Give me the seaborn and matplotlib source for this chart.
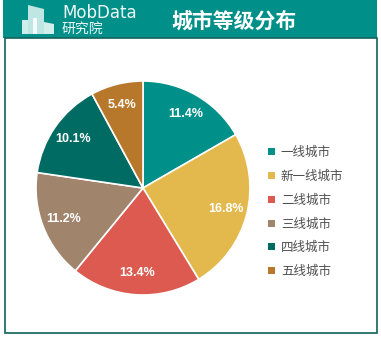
import matplotlib
matplotlib.use("Agg")
import matplotlib.pyplot as plt
from matplotlib.patches import Rectangle, Polygon
import numpy as np
import seaborn as sns

sns.set_theme(style="white")
plt.rcParams["font.family"] = ["Noto Sans CJK SC", "DejaVu Sans"]

# City tier shares (%)
categories = ["一线城市", "新一线城市", "二线城市", "三线城市", "四线城市", "五线城市"]
shares = [11.4, 16.8, 13.4, 11.2, 10.1, 5.4]
colors = ["#00908a", "#e3b84c", "#dc5a50", "#a1846c", "#006b63", "#b8782b"]
title = "城市等级分布"

W, H = 381, 338
fig = plt.figure(figsize=(W / 100, H / 100), dpi=100)
fig.patch.set_facecolor("white")


def fx(px):
    return px / W


def fy(py):
    return 1 - py / H


def fig_poly(points, color, z=2):
    pts = [(fx(x), fy(y)) for x, y in points]
    fig.add_artist(Polygon(pts, closed=True, transform=fig.transFigure,
                           facecolor=color, edgecolor="none", zorder=z))


# header band and frame
fig.add_artist(Rectangle((fx(3), fy(38)), fx(374), 38 / H, transform=fig.transFigure,
                         facecolor="#009089", edgecolor="none", zorder=0))
fig.add_artist(Rectangle((fx(4.5), fy(333)), fx(372), 295 / H, transform=fig.transFigure,
                         facecolor="none", edgecolor="#11625c", linewidth=1.2, zorder=1))

# logo buildings
fig_poly([(22, 20), (28, 20), (28, 34), (22, 34)], "#cdeeea")
fig_poly([(28, 5), (44, 9), (44, 34), (28, 34)], "#bfe6e2")
fig_poly([(44, 22), (54, 24), (54, 34), (44, 34)], "#d3efec")
fig_poly([(33, 18), (37, 18), (37, 34), (33, 34)], "#f4fbfa", z=3)
fig.text(fx(62), fy(13), "MobData", color="#eef8f7", fontsize=12,
         family=["DejaVu Sans"], va="center", ha="left")
fig.text(fx(62), fy(29), "研究院", color="#eef8f7", fontsize=10,
         va="center", ha="left")
fig.text(fx(234), fy(21), title, color="white", fontsize=15, weight="bold",
         va="center", ha="center")

# pie
cx, cy, r = 143, 188, 107
ax = fig.add_axes([fx(cx - r), fy(cy + r), 2 * r / W, 2 * r / H])
wedges, _ = ax.pie(shares, colors=colors, startangle=90, counterclock=False,
                   wedgeprops=dict(edgecolor="white", linewidth=1.2))
for w, v in zip(wedges, shares):
    mid = np.deg2rad((w.theta1 + w.theta2) / 2)
    ax.text(0.8 * np.cos(mid), 0.8 * np.sin(mid), f"{v}%", color="white",
            fontsize=9, weight="bold", family=["Liberation Sans"],
            ha="center", va="center")
ax.set_xlim(-1, 1)
ax.set_ylim(-1, 1)
ax.set_aspect("equal")
ax.axis("off")

leg = fig.legend(wedges, categories, loc="upper left",
                 bbox_to_anchor=(fx(262), fy(140)), frameon=False,
                 prop=dict(size=9, weight="medium"),
                 handlelength=0.5, handleheight=0.5,
                 handletextpad=0.5, labelspacing=0.86, borderpad=0,
                 labelcolor="#4f4f4f")
for h in leg.legend_handles:
    h.set_edgecolor("none")

fig.savefig("out.png", dpi=100)
